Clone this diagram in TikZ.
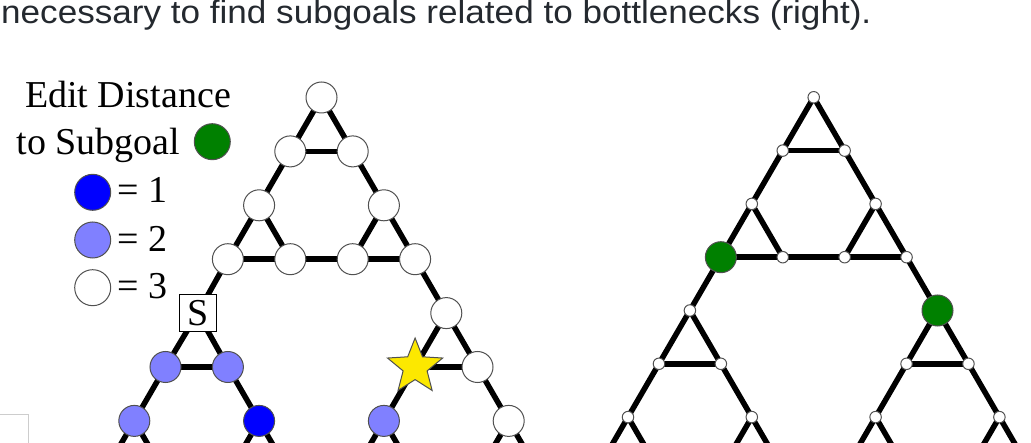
\documentclass[tikz,border=0pt]{standalone}
\usepackage{fontspec}
\setmainfont{Liberation Serif}
\newfontfamily\capfont{Liberation Sans}
\usetikzlibrary{shapes.geometric,backgrounds}
\definecolor{nblue}{RGB}{0,0,255}
\definecolor{lblue}{RGB}{128,128,255}
\definecolor{sgreen}{RGB}{0,128,0}
\definecolor{syellow}{RGB}{252,232,0}
\definecolor{captext}{RGB}{36,41,47}
\definecolor{nborder}{RGB}{80,80,80}
\definecolor{boxgray}{RGB}{205,205,205}
\begin{document}
\begin{tikzpicture}[x=1pt,y=-1pt,
  edge/.style={line width=5.5pt,black},
  gnode/.style={circle,draw=nborder,line width=1pt,inner sep=0pt},
  wbig/.style={gnode,fill=white,minimum size=31pt},
  lbbig/.style={gnode,fill=lblue,minimum size=31pt},
  bbig/.style={gnode,fill=nblue,minimum size=31pt},
  gbig/.style={gnode,fill=sgreen,minimum size=31pt},
  wsmall/.style={gnode,fill=white,minimum size=11.5pt},
  legdot/.style={gnode,minimum size=36pt},
  sbox/.style={draw=black,line width=1pt,fill=white,minimum size=37pt,inner sep=0pt,font=\fontsize{38}{44}\selectfont},
  starnode/.style={star,star points=5,star point ratio=2.3,minimum size=58pt,inner sep=0pt,draw=nborder,line width=1pt,fill=syellow},
  legtext/.style={inner sep=0pt,font=\fontsize{38}{44}\selectfont},
]
\useasboundingbox (0,0) rectangle (1031,443);

% caption
\node[anchor=base west,inner sep=0pt,text=captext,font=\capfont\fontsize{32.5}{40}\selectfont] (cap) at (1,24)
  {\scalebox{1.08}[1]{necessary to find subgoals related to bottlenecks (right).}};

% legend
\node[legtext,anchor=base] (t1) at (128,108) {Edit Distance};
\node[legtext,anchor=base] (t2) at (98.3,155) {to Subgoal};
\node[legdot,fill=sgreen] (lg) at (212.3,141.7) {};
\node[legdot,fill=nblue] (l1) at (92.7,192.3) {};
\node[legdot,fill=lblue] (l2) at (92.7,240) {};
\node[legdot,fill=white] (l3) at (92.7,287.7) {};
\node[legtext,anchor=base west] (e1) at (117,203) {= 1};
\node[legtext,anchor=base west] (e2) at (117,251.5) {= 2};
\node[legtext,anchor=base west] (e3) at (117,298.5) {= 3};

% left graph nodes
\foreach \r/\k/\s in {0/0/wbig,1/0/wbig,1/1/wbig,2/0/wbig,2/2/wbig,3/0/wbig,3/1/wbig,3/2/wbig,3/3/wbig,
  5/0/lbbig,5/1/lbbig,6/0/lbbig,6/2/bbig,7/0/coordinate,7/1/coordinate,7/2/coordinate,7/3/coordinate,
  4/4/wbig,5/4/starnode,5/5/wbig,6/4/lbbig,6/6/wbig,7/4/coordinate,7/5/coordinate,7/6/coordinate,7/7/coordinate}
  \node[\s] (L-\r-\k) at ({321.5+62.4*(\k-\r/2)},{97.5+53.9*\r}) {};
\node[sbox] (L-4-0) at ({322.5+62.4*(0-2)},{97.5+53.9*4}) {S};

% right graph nodes
\foreach \r/\k/\s in {0/0/wsmall,1/0/wsmall,1/1/wsmall,2/0/wsmall,2/2/wsmall,3/0/gbig,3/1/wsmall,3/2/wsmall,3/3/wsmall,
  4/0/wsmall,5/0/wsmall,5/1/wsmall,6/0/wsmall,6/2/wsmall,7/0/coordinate,7/1/coordinate,7/2/coordinate,7/3/coordinate,
  4/4/gbig,5/4/wsmall,5/5/wsmall,6/4/wsmall,6/6/wsmall,7/4/coordinate,7/5/coordinate,7/6/coordinate,7/7/coordinate}
  \node[\s] (R-\r-\k) at ({813.7+61.9*(\k-\r/2)},{97.3+53.3*\r}) {};

% edges
\begin{scope}[on background layer]
\foreach \g in {L,R}{
  \foreach \a/\b/\c/\d in {0/0/1/0,0/0/1/1,1/0/1/1,1/0/2/0,1/1/2/2,2/0/3/0,2/0/3/1,3/0/3/1,2/2/3/2,2/2/3/3,3/2/3/3,3/1/3/2,
    4/0/5/0,4/0/5/1,5/0/5/1,5/0/6/0,5/1/6/2,6/0/7/0,6/0/7/1,7/0/7/1,6/2/7/2,6/2/7/3,7/2/7/3,7/1/7/2,
    4/4/5/4,4/4/5/5,5/4/5/5,5/4/6/4,5/5/6/6,6/4/7/4,6/4/7/5,7/4/7/5,6/6/7/6,6/6/7/7,7/6/7/7,7/5/7/6,
    3/0/4/0,3/3/4/4,7/3/7/4}
    \draw[edge] (\g-\a-\b.center) -- (\g-\c-\d.center);
}
\end{scope}

% page artefact box, bottom left
\draw[boxgray,line width=1pt] (-5,414.5) -- (28.5,414.5) -- (28.5,450);
\end{tikzpicture}
\end{document}
